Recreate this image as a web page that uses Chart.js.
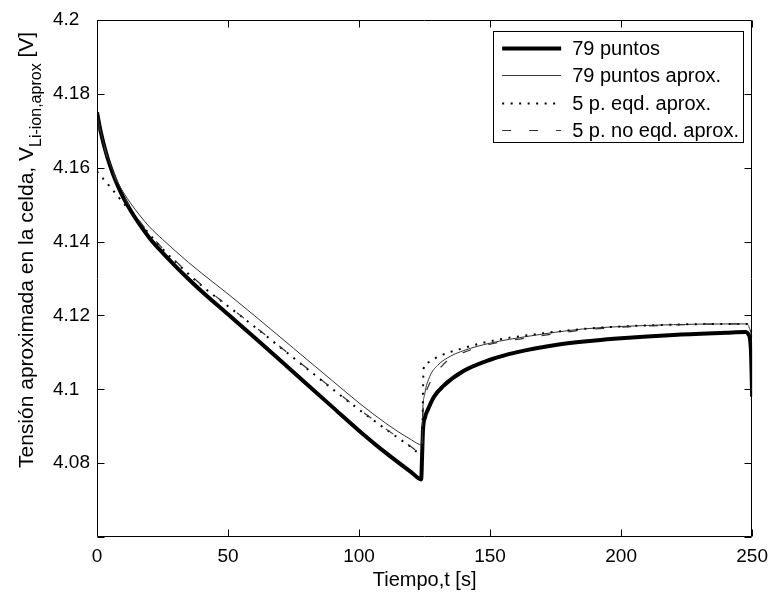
<!DOCTYPE html>
<html>
<head>
<meta charset="utf-8">
<script src="https://cdn.jsdelivr.net/npm/chart.js@4.4.1/dist/chart.umd.min.js"></script>
<style>
  html, body { margin: 0; padding: 0; background: #fff; }
  canvas { display: block; }
</style>
</head>
<body>
<canvas id="chart" width="776" height="596"></canvas>
<script>
// values
const seriesLabels = ['79 puntos', '79 puntos aprox.', '5 p. eqd. aprox.', '5 p. no eqd. aprox.'];

const tThick = [0, 1, 2, 3, 4, 6, 8, 10, 13, 16, 20, 25, 30, 35, 40, 50, 60, 75, 90, 100, 110, 120, 123.7, 124.1, 124.4, 125.2, 126.2, 128.6, 132, 140, 150, 160, 175, 190, 200, 220, 240, 247.5, 248.5, 249.5, 250];
const vThick = [4.175, 4.1712, 4.168, 4.1652, 4.1627, 4.1585, 4.155, 4.152, 4.1482, 4.1449, 4.141, 4.137, 4.1333, 4.1298, 4.1265, 4.1203, 4.1141, 4.1046, 4.0951, 4.0888, 4.0829, 4.0775, 4.0756, 4.083, 4.089, 4.0925, 4.0944, 4.098, 4.1008, 4.105, 4.108, 4.11, 4.112, 4.1132, 4.1138, 4.1147, 4.1153, 4.1155, 4.115, 4.111, 4.098];

const tThin = [0, 2, 4, 6, 8, 10, 13, 16, 20, 25, 30, 35, 40, 50, 60, 75, 90, 100, 110, 120, 124, 124.3, 125, 127, 130, 135, 140, 150, 165, 185, 200, 220, 240, 248, 249, 250];
const vThin = [4.1745, 4.168, 4.163, 4.1592, 4.156, 4.1534, 4.1502, 4.1474, 4.144, 4.1406, 4.1374, 4.1343, 4.1314, 4.1258, 4.12, 4.1111, 4.1022, 4.0963, 4.0909, 4.0863, 4.0849, 4.094, 4.0985, 4.1035, 4.1065, 4.109, 4.1105, 4.1125, 4.1144, 4.1163, 4.117, 4.1175, 4.1177, 4.1177, 4.1165, 4.114];

const tDot = [0, 5, 10, 16, 20, 25, 30, 40, 50, 60, 75, 90, 100, 110, 120, 124, 124.3, 124.6, 126, 130, 140, 152, 165, 185, 200, 220, 240, 248, 249, 250];
const vDot = [4.159, 4.1548, 4.1505, 4.1454, 4.142, 4.138, 4.1345, 4.128, 4.1225, 4.117, 4.1085, 4.1, 4.0945, 4.0893, 4.0843, 4.0823, 4.094, 4.1055, 4.1072, 4.1088, 4.1112, 4.1133, 4.1147, 4.1163, 4.117, 4.1175, 4.1177, 4.1177, 4.117, 4.1155];

const tDash = [0, 2, 4, 6, 8, 10, 13, 16, 20, 25, 30, 40, 50, 60, 75, 90, 100, 110, 120, 124, 124.3, 125, 127, 130, 135, 140, 150, 165, 185, 200, 220, 240, 248, 249, 250];
const vDash = [4.1725, 4.1672, 4.1625, 4.1588, 4.1555, 4.1527, 4.149, 4.1458, 4.1422, 4.1382, 4.1347, 4.1282, 4.1226, 4.1171, 4.1086, 4.1001, 4.0946, 4.0894, 4.0844, 4.0825, 4.092, 4.097, 4.1017, 4.105, 4.1085, 4.11, 4.1122, 4.114, 4.116, 4.1168, 4.1174, 4.1177, 4.1177, 4.1165, 4.1145];

const xTitle = 'Tiempo,t [s]';
const yTitleMain = 'Tensión aproximada en la celda, V';
const yTitleSub = 'Li-ion,aprox';
const yTitleUnit = ' [V]';

const FONT = "'Liberation Sans', Arial, sans-serif";
const TICK = 7;

const toPoints = (ts, vs) => ts.map((t, i) => ({ x: t, y: vs[i] }));

const matlabFrame = {
  id: 'matlabFrame',
  afterDatasetsDraw(chart) {
    const { ctx, chartArea: a, scales } = chart;
    const { x, y } = scales;
    const L = Math.round(a.left) + 0.5;
    const R = Math.round(a.right) - 0.5;
    const T = Math.round(a.top) + 0.5;
    const B = Math.round(a.bottom) - 0.5;
    ctx.save();
    ctx.strokeStyle = '#000';
    ctx.lineWidth = 1;
    ctx.setLineDash([]);
    ctx.beginPath();
    x.ticks.forEach((t) => {
      const px = Math.round(x.getPixelForValue(t.value)) + 0.5;
      ctx.moveTo(px, B);
      ctx.lineTo(px, B - TICK);
      ctx.moveTo(px, T);
      ctx.lineTo(px, T + TICK);
    });
    y.ticks.forEach((t) => {
      const py = Math.round(y.getPixelForValue(t.value)) + 0.5;
      ctx.moveTo(L, py);
      ctx.lineTo(L + TICK, py);
      ctx.moveTo(R, py);
      ctx.lineTo(R - TICK, py);
    });
    ctx.moveTo(L, T);
    ctx.lineTo(R, T);
    ctx.lineTo(R, B);
    ctx.lineTo(L, B);
    ctx.closePath();
    ctx.stroke();
    ctx.restore();
  },
  afterDraw(chart) {
    const { ctx, chartArea: a } = chart;
    ctx.save();

    // legend box, inside the top right corner
    const box = { left: a.right - 259, top: a.top + 11, right: a.right - 9, bottom: a.top + 122 };
    ctx.fillStyle = '#fff';
    ctx.fillRect(box.left, box.top, box.right - box.left, box.bottom - box.top);
    ctx.strokeStyle = '#000';
    ctx.lineWidth = 1;
    ctx.setLineDash([]);
    ctx.strokeRect(Math.round(box.left) + 0.5, Math.round(box.top) + 0.5, box.right - box.left, box.bottom - box.top);
    ctx.font = '20px ' + FONT;
    ctx.textBaseline = 'middle';
    ctx.textAlign = 'left';
    chart.data.datasets.forEach((ds, i) => {
      const yy = Math.round(box.top + 17 + i * 27.4) + 0.5;
      ctx.beginPath();
      ctx.strokeStyle = ds.borderColor;
      ctx.lineWidth = ds.borderWidth;
      ctx.setLineDash(ds.borderDash || []);
      ctx.moveTo(box.left + 9, yy);
      ctx.lineTo(box.left + 68, yy);
      ctx.stroke();
      ctx.fillStyle = '#000';
      ctx.fillText(ds.label, box.left + 79, yy + 1);
    });

    // y axis title with subscript
    ctx.setLineDash([]);
    ctx.translate(33, 468);
    ctx.rotate(-Math.PI / 2);
    ctx.fillStyle = '#000';
    ctx.textBaseline = 'alphabetic';
    ctx.textAlign = 'left';
    ctx.font = '21px ' + FONT;
    ctx.fillText(yTitleMain, 0, 0);
    const w1 = ctx.measureText(yTitleMain).width;
    ctx.font = '16px ' + FONT;
    ctx.fillText(yTitleSub, w1, 8);
    const w2 = ctx.measureText(yTitleSub).width;
    ctx.font = '21px ' + FONT;
    ctx.fillText(yTitleUnit, w1 + w2, 0);
    ctx.restore();
  },
};

const ctx = document.getElementById('chart').getContext('2d');
new Chart(ctx, {
  type: 'line',
  data: {
    datasets: [
      {
        label: seriesLabels[0],
        data: toPoints(tThick, vThick),
        borderColor: '#000',
        borderWidth: 4,
        order: 3,
      },
      {
        label: seriesLabels[1],
        data: toPoints(tThin, vThin),
        borderColor: '#333',
        borderWidth: 1,
        order: 2,
      },
      {
        label: seriesLabels[2],
        data: toPoints(tDot, vDot),
        borderColor: '#000',
        borderWidth: 2,
        borderDash: [2, 6.5],
        order: 1,
      },
      {
        label: seriesLabels[3],
        data: toPoints(tDash, vDash),
        borderColor: '#333',
        borderWidth: 1.2,
        borderDash: [9, 18],
        order: 0,
      },
    ],
  },
  options: {
    responsive: false,
    animation: false,
    devicePixelRatio: 1,
    layout: { padding: { left: 53, right: 23, top: 20, bottom: 0 } },
    elements: {
      point: { radius: 0, hoverRadius: 0 },
      line: { cubicInterpolationMode: 'monotone', fill: false, borderCapStyle: 'butt' },
    },
    plugins: {
      legend: { display: false },
      tooltip: { enabled: false },
    },
    scales: {
      x: {
        type: 'linear',
        min: 0,
        max: 250,
        border: { display: false },
        grid: { display: false, drawTicks: false },
        ticks: { stepSize: 50, color: '#000', padding: 8, maxRotation: 0, font: { family: FONT, size: 19 } },
        title: { display: true, text: xTitle, color: '#000', font: { family: FONT, size: 20 }, padding: { top: 0, bottom: 4 } },
        afterFit: (scale) => { scale.height = 59; },
      },
      y: {
        min: 4.06,
        max: 4.2,
        border: { display: false },
        grid: { display: false, drawTicks: false },
        ticks: {
          stepSize: 0.02,
          color: '#000',
          crossAlign: 'far',
          font: { family: FONT, size: 19 },
          callback: (v) => (Math.abs(v - 4.06) < 1e-9 ? '' : String(+v.toFixed(2))),
        },
        afterFit: (scale) => { scale.width = 44; },
      },
    },
  },
  plugins: [matlabFrame],
});
</script>
</body>
</html>
